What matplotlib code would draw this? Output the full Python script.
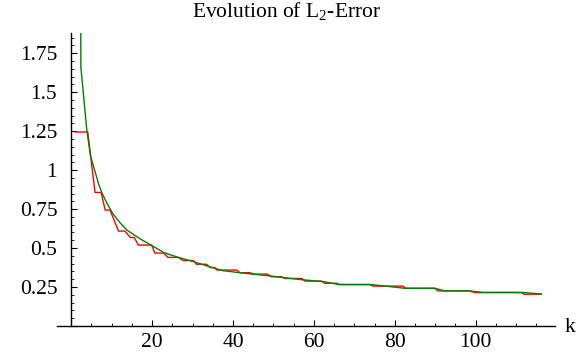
import numpy as np
import matplotlib.pyplot as plt
from matplotlib.ticker import MultipleLocator, FuncFormatter

plt.rcParams['font.family'] = 'Liberation Serif'
plt.rcParams['mathtext.fontset'] = 'custom'
plt.rcParams['mathtext.rm'] = 'Liberation Serif'

# red curve (step-like) vertices
red_k = [1, 4.1, 5.9, 7.4, 8.4, 9.6, 11.7, 13.3, 14.6, 15.6, 16.6, 19.9, 20.7, 22.9,
         23.9, 26.5, 27.7, 30.2, 31.0, 33.5, 34.3, 35.5, 36.0, 40.9, 41.7, 44.2,
         45.0, 48.5, 49.5, 52.0, 52.8, 57.0, 57.8, 61.9, 62.7, 65.6, 66.4, 73.8,
         74.6, 82.0, 82.7, 89.9, 90.7, 98.5, 99.8, 111.3, 111.9, 116.2]
red_err = [1.245, 1.245, 0.857, 0.857, 0.744, 0.744, 0.609, 0.609, 0.568, 0.568, 0.519, 0.519,
           0.468, 0.468, 0.44, 0.44, 0.42, 0.42, 0.396, 0.396, 0.375, 0.375, 0.359, 0.359,
           0.342, 0.342, 0.333, 0.333, 0.316, 0.316, 0.305, 0.305, 0.288, 0.288, 0.274,
           0.274, 0.265, 0.265, 0.256, 0.256, 0.242, 0.242, 0.225, 0.225, 0.214, 0.214,
           0.204, 0.204]

# green curve vertices
green_k = [2.35, 2.4, 3.9, 4.8, 6.8, 7.6, 8.7, 10.2, 12.0, 13.8, 17.0, 20.0, 23.0, 26.5,
           30.0, 33.0, 37.5, 43.0, 49.0, 52.0, 57.0, 62.3, 66.0, 73.8, 82.5, 89.9, 92.3,
           98.1, 101.8, 111.3, 116.2]
green_err = [2.3, 1.66, 1.25, 1.09, 0.91, 0.854, 0.795, 0.725, 0.665, 0.615, 0.56, 0.515,
             0.47, 0.44, 0.415, 0.39, 0.355, 0.338, 0.322, 0.312, 0.297, 0.285, 0.267, 0.267,
             0.242, 0.242, 0.226, 0.226, 0.216, 0.216, 0.205]

fig = plt.figure(figsize=(5.79, 3.58), dpi=100)
ax = fig.add_axes([57/579, 1-326/358, (555-57)/579, (326-33)/358])

ax.plot(red_k, red_err, color='#ff0000', lw=1.0)
ax.plot(green_k, green_err, color='#008000', lw=1.0)

ax.set_xlim(-3.5, 119.6)
ax.set_ylim(0, 1.88)

ax.spines['left'].set_position(('data', 0))
ax.spines['bottom'].set_position(('data', 0))
ax.spines['top'].set_visible(False)
ax.spines['right'].set_visible(False)
for s in ['left', 'bottom']:
    ax.spines[s].set_linewidth(1.0)

ax.xaxis.set_major_locator(MultipleLocator(20))
ax.xaxis.set_minor_locator(MultipleLocator(5))
ax.yaxis.set_major_locator(MultipleLocator(0.25))
ax.yaxis.set_minor_locator(MultipleLocator(0.05))
ax.yaxis.set_major_formatter(FuncFormatter(lambda v, p: '' if v <= 0 else '%g' % v))
ax.xaxis.set_major_formatter(FuncFormatter(lambda v, p: '' if v <= 0 else '%g' % v))

ax.tick_params(which='both', direction='in', labelsize=15.5)
ax.tick_params(which='major', length=4, width=0.8)
ax.tick_params(which='minor', length=2.5, width=0.6)
ax.tick_params(axis='y', pad=10)
ax.tick_params(axis='x', pad=5)

fig.text(570/579, 1-328/358, 'k', fontsize=15.5, ha='center', va='center')
fig.text(286.5/579, 1-17/358, r'Evolution of L$_\mathrm{2}$-Error', fontsize=15.5,
         ha='center', va='baseline')

fig.savefig('out.png', dpi=100)
